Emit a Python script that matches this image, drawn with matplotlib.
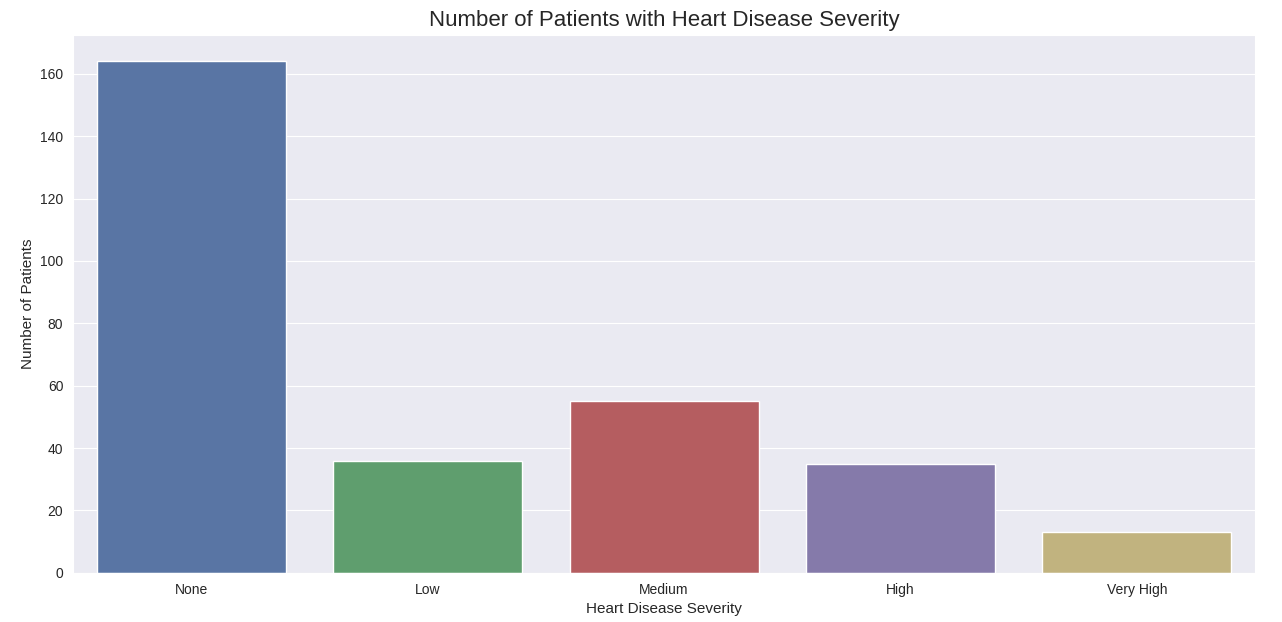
import matplotlib
matplotlib.use("Agg")
import matplotlib.pyplot as plt
import seaborn as sns

categories = ["None", "Low", "Medium", "High", "Very High"]
counts = [164, 36, 55, 35, 13]
colors = ["#4C72B0", "#55A868", "#C44E52", "#8172B2", "#CCB974"]

sns.set_style("darkgrid")
plt.rcParams['font.family'] = ['Arial', 'Liberation Sans', 'DejaVu Sans']

fig, ax = plt.subplots(figsize=(12.82, 6.22), dpi=100)
sns.barplot(x=categories, y=counts, hue=categories, palette=colors,
            saturation=0.75, legend=False, ax=ax)
ax.set_ylim(0, 172.5)
ax.set_title("Number of Patients with Heart Disease Severity", fontsize=16)
ax.set_xlabel("Heart Disease Severity", fontsize=11)
ax.set_ylabel("Number of Patients", fontsize=11)
ax.tick_params(labelsize=10)
plt.subplots_adjust(left=0.057, right=0.979, top=0.944, bottom=0.079)
fig.savefig("out.png")
